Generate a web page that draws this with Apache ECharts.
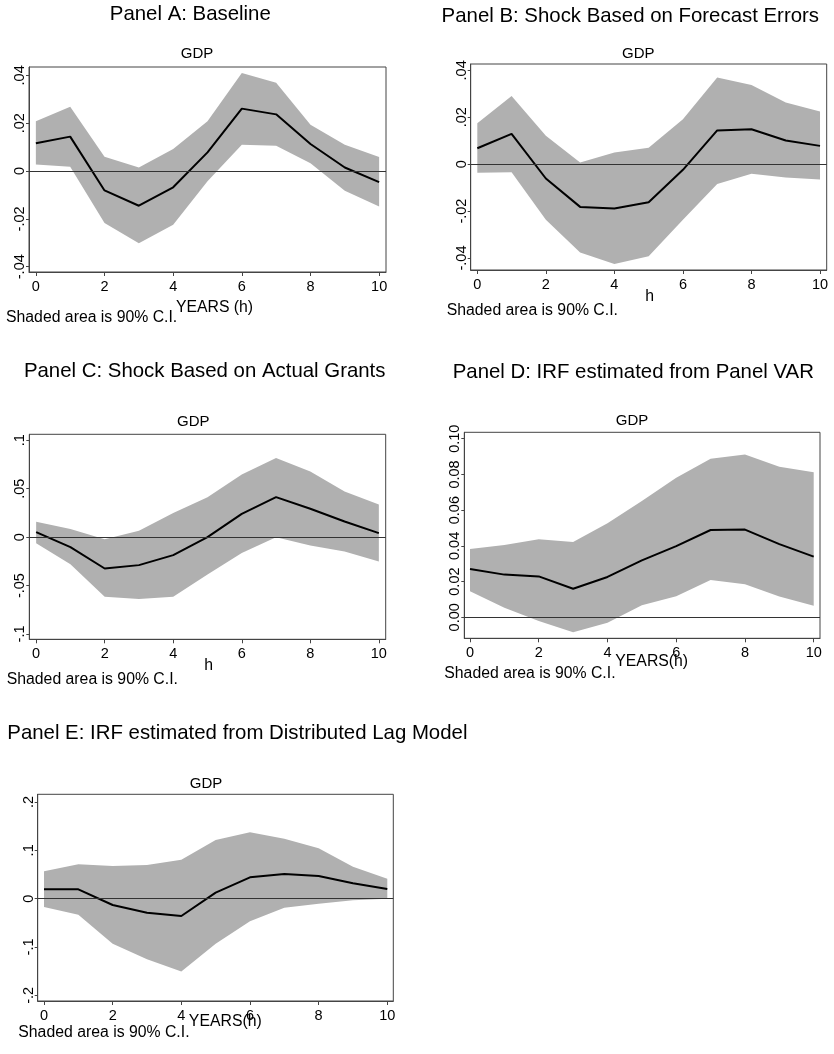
<!DOCTYPE html>
<html>
<head>
<meta charset="utf-8">
<script src="https://cdn.jsdelivr.net/npm/echarts@6/dist/echarts.min.js"></script>
<style>
html,body{margin:0;padding:0;background:#fff;}
#chart{width:834px;height:1054px;}
</style>
</head>
<body>
<div id="chart"></div>
<script>
// ---------- DATA ----------
const horizons = [0, 1, 2, 3, 4, 5, 6, 7, 8, 9, 10];
const xTicks = [0, 2, 4, 6, 8, 10];
const xTickLabels = ['0', '2', '4', '6', '8', '10'];

const panelTitles = [
  'Panel A: Baseline',
  'Panel B: Shock Based on Forecast Errors',
  'Panel C: Shock Based on Actual Grants',
  'Panel D: IRF estimated from Panel VAR',
  'Panel E: IRF estimated from Distributed Lag Model'
];
const subTitle = 'GDP';
const footNote = 'Shaded area is 90% C.I.';
const xTitles = ['YEARS (h)', 'h', 'h', 'YEARS(h)', 'YEARS(h)'];

// Panel A: Baseline
const aIRF   = [0.0116, 0.0144, -0.0081, -0.0145, -0.0068, 0.0078, 0.0261, 0.0237, 0.0113, 0.0015, -0.0046];
const aLower = [0.0027, 0.0018, -0.0217, -0.0302, -0.0224, -0.0043, 0.0110, 0.0106, 0.0033, -0.0082, -0.0148];
const aUpper = [0.0208, 0.0269, 0.0060, 0.0015, 0.0092, 0.0208, 0.0410, 0.0369, 0.0194, 0.0110, 0.0059];
const aYTicks = [-0.04, -0.02, 0, 0.02, 0.04];
const aYTickLabels = ['-.04', '-.02', '0', '.02', '.04'];

// Panel B: Shock Based on Forecast Errors
const bIRF   = [0.0068, 0.0129, -0.0061, -0.0182, -0.0189, -0.0162, -0.0024, 0.0144, 0.0149, 0.0101, 0.0078];
const bLower = [-0.0036, -0.0034, -0.0237, -0.0376, -0.0425, -0.0392, -0.0237, -0.0084, -0.0041, -0.0057, -0.0065];
const bUpper = [0.0175, 0.0291, 0.0121, 0.0007, 0.0050, 0.0070, 0.0192, 0.0369, 0.0338, 0.0263, 0.0225];
const bYTicks = [-0.04, -0.02, 0, 0.02, 0.04];
const bYTickLabels = ['-.04', '-.02', '0', '.02', '.04'];

// Panel C: Shock Based on Actual Grants
const cIRF   = [0.0052, -0.0103, -0.0324, -0.0289, -0.0186, 0.0000, 0.0241, 0.0413, 0.0293, 0.0162, 0.0041];
const cLower = [-0.0062, -0.0279, -0.0616, -0.0640, -0.0616, -0.0386, -0.0165, 0.0000, -0.0086, -0.0148, -0.0251];
const cUpper = [0.0158, 0.0083, -0.0021, 0.0065, 0.0248, 0.0413, 0.0647, 0.0816, 0.0678, 0.0472, 0.0337];
const cYTicks = [-0.1, -0.05, 0, 0.05, 0.1];
const cYTickLabels = ['-.1', '-.05', '0', '.05', '.1'];

// Panel D: IRF estimated from Panel VAR
const dIRF   = [0.0271, 0.0239, 0.0229, 0.0160, 0.0226, 0.0319, 0.0399, 0.0489, 0.0491, 0.0410, 0.0340];
const dLower = [0.0146, 0.0054, -0.0021, -0.0084, -0.0030, 0.0067, 0.0118, 0.0209, 0.0185, 0.0116, 0.0065];
const dUpper = [0.0382, 0.0405, 0.0437, 0.0422, 0.0526, 0.0651, 0.0782, 0.0888, 0.0912, 0.0843, 0.0812];
const dYTicks = [0, 0.02, 0.04, 0.06, 0.08, 0.1];
const dYTickLabels = ['0.00', '0.02', '0.04', '0.06', '0.08', '0.10'];

// Panel E: IRF estimated from Distributed Lag Model
const eIRF   = [0.0193, 0.0193, -0.0131, -0.0290, -0.0359, 0.0124, 0.0441, 0.0510, 0.0469, 0.0317, 0.0200];
const eLower = [-0.0172, -0.0331, -0.0931, -0.1255, -0.1510, -0.0931, -0.0469, -0.0186, -0.0103, -0.0034, 0.0000];
const eUpper = [0.0566, 0.0710, 0.0676, 0.0697, 0.0807, 0.1214, 0.1372, 0.1241, 0.1041, 0.0662, 0.0414];
const eYTicks = [-0.2, -0.1, 0, 0.1, 0.2];
const eYTickLabels = ['-.2', '-.1', '0', '.1', '.2'];

// ---------- LAYOUT (pixels / axis extents) ----------
const panels = [
  { irf: aIRF, lo: aLower, hi: aUpper, yt: aYTicks, yl: aYTickLabels },
  { irf: bIRF, lo: bLower, hi: bUpper, yt: bYTicks, yl: bYTickLabels },
  { irf: cIRF, lo: cLower, hi: cUpper, yt: cYTicks, yl: cYTickLabels },
  { irf: dIRF, lo: dLower, hi: dUpper, yt: dYTicks, yl: dYTickLabels },
  { irf: eIRF, lo: eLower, hi: eUpper, yt: eYTicks, yl: eYTickLabels }
];
const layout = [
  { grid: {left: 29, top: 67, width: 357, height: 205}, x: [-0.2, 10.2], y: [-0.0422, 0.0435],
    title: [190.3, 14.5, 'center'], sub: [197, 54.3], foot: [6, 317.5], xt: [214.5, 307.8] },
  { grid: {left: 470.7, top: 64, width: 356, height: 206}, x: [-0.193, 10.195], y: [-0.0451, 0.0427],
    title: [630.3, 16.7, 'center'], sub: [638.3, 53.5], foot: [446.7, 311], xt: [649.7, 296.3] },
  { grid: {left: 29.3, top: 434.3, width: 356.4, height: 205}, x: [-0.2, 10.2], y: [-0.1055, 0.1062],
    title: [204.7, 371.5, 'center'], sub: [193.3, 422], foot: [6.7, 680], xt: [208.7, 665.8] },
  { grid: {left: 464.3, top: 432.3, width: 355.7, height: 206}, x: [-0.166, 10.183], y: [-0.01176, 0.1036],
    title: [633.3, 372, 'center'], sub: [632, 420.5], foot: [444.3, 674], xt: [651.7, 661.7] },
  { grid: {left: 37.7, top: 794.3, width: 355.6, height: 206.7}, x: [-0.184, 10.175], y: [-0.2118, 0.216],
    title: [7.3, 733.5, 'left'], sub: [206, 784], foot: [18.3, 1032.5], xt: [225.3, 1021.7] }
];

const FONT = '"Liberation Sans", Arial, Helvetica, sans-serif';
const FRAME = '#444';
const BAND = '#b0b0b0';

function labelFor(ticks, labels) {
  return function (v) {
    for (let i = 0; i < ticks.length; i++) if (Math.abs(ticks[i] - v) < 1e-9) return labels[i];
    return '';
  };
}

const grids = [], xAxes = [], yAxes = [], series = [], graphics = [];

function txt(x, y, text, size, align) {
  graphics.push({
    type: 'text', x: x, y: y, silent: true,
    style: { text: text, fontSize: size, fontFamily: FONT, fill: '#000', align: align || 'center', verticalAlign: 'middle' }
  });
}

function bandRenderer(n) {
  return function (params, api) {
    if (params.dataIndex !== 0) return null;
    const top = [], bot = [];
    for (let k = 0; k < n; k++) {
      top.push(api.coord([api.value(0, k), api.value(2, k)]));
      bot.push(api.coord([api.value(0, k), api.value(1, k)]));
    }
    return {
      type: 'polygon',
      shape: { points: top.concat(bot.reverse()) },
      style: { fill: BAND, stroke: null }
    };
  };
}

panels.forEach(function (p, i) {
  const L = layout[i];
  grids.push(Object.assign({ show: true, borderColor: FRAME, borderWidth: 1, backgroundColor: 'transparent', containLabel: false }, L.grid));
  xAxes.push({
    type: 'value', gridIndex: i, min: L.x[0], max: L.x[1],
    splitLine: { show: false },
    axisLine: { show: true, onZero: false, lineStyle: { color: FRAME, width: 1 } },
    axisTick: { show: true, customValues: xTicks, length: 4, inside: false, lineStyle: { color: FRAME } },
    axisLabel: { show: true, customValues: xTicks, formatter: labelFor(xTicks, xTickLabels), margin: 7,
      fontSize: 14.5, fontFamily: FONT, color: '#000' }
  });
  yAxes.push({
    type: 'value', gridIndex: i, min: L.y[0], max: L.y[1],
    splitLine: { show: false },
    axisLine: { show: true, onZero: false, lineStyle: { color: FRAME, width: 1 } },
    axisTick: { show: true, customValues: p.yt, length: 3, inside: false, lineStyle: { color: FRAME } },
    axisLabel: { show: true, customValues: p.yt, formatter: labelFor(p.yt, p.yl), rotate: 90, margin: 1.5,
      fontSize: 14.5, fontFamily: FONT, color: '#000' }
  });
  series.push({
    type: 'custom', xAxisIndex: i, yAxisIndex: i,
    data: horizons.map(function (h, k) { return [h, p.lo[k], p.hi[k]]; }),
    encode: { x: 0, y: [1, 2] },
    renderItem: bandRenderer(horizons.length),
    silent: true, z: 1
  });
  series.push({
    type: 'line', xAxisIndex: i, yAxisIndex: i,
    data: horizons.map(function (h, k) { return [h, p.irf[k]]; }),
    symbol: 'none', lineStyle: { color: '#000', width: 2 }, silent: true, z: 3,
    markLine: { silent: true, symbol: ['none', 'none'], label: { show: false },
      lineStyle: { color: '#333', width: 1, type: 'solid' }, data: [{ yAxis: 0 }] }
  });
  txt(L.title[0], L.title[1], panelTitles[i], 20.4, L.title[2]);
  txt(L.sub[0], L.sub[1], subTitle, 15, 'center');
  txt(L.foot[0], L.foot[1], footNote, 15.8, 'left');
  txt(L.xt[0], L.xt[1], xTitles[i], 15.8, 'center');
});

const chart = echarts.init(document.getElementById('chart'), null, { renderer: 'canvas' });
chart.setOption({
  animation: false,
  backgroundColor: '#fff',
  grid: grids, xAxis: xAxes, yAxis: yAxes, series: series,
  graphic: { elements: graphics }
});
</script>
</body>
</html>
